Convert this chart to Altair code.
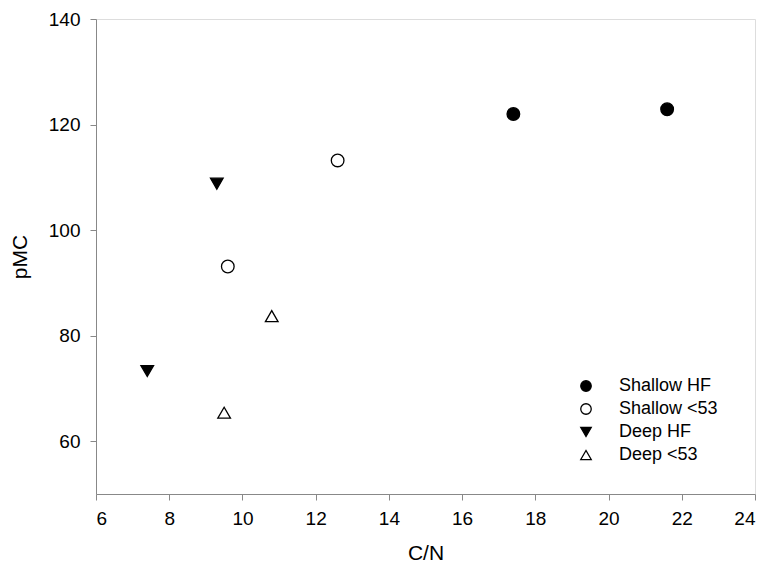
import altair as alt
import pandas as pd

series_names = ["Shallow HF", "Shallow <53", "Deep HF", "Deep <53"]
shallow_hf_cn = [17.4, 21.6]
shallow_hf_pmc = [122.0, 122.9]
shallow_53_cn = [9.6, 12.6]
shallow_53_pmc = [93.1, 113.2]
deep_hf_cn = [7.4, 9.3]
deep_hf_pmc = [73.3, 108.8]
deep_53_cn = [9.5, 10.8]
deep_53_pmc = [65.4, 83.7]

x_ticks = [6, 8, 10, 12, 14, 16, 18, 20, 22, 24]
y_ticks = [60, 80, 100, 120, 140]

rows = []
for name, xs, ys in zip(series_names,
                        [shallow_hf_cn, shallow_53_cn, deep_hf_cn, deep_53_cn],
                        [shallow_hf_pmc, shallow_53_pmc, deep_hf_pmc, deep_53_pmc]):
    for xv, yv in zip(xs, ys):
        rows.append({"series": name, "cn": xv, "pmc": yv})
df = pd.DataFrame(rows)

FONT = "Liberation Sans"


def make_legend():
    return alt.Legend(title=None, orient="none", legendX=481, legendY=358,
                      labelFontSize=18, symbolSize=110, labelOffset=24,
                      rowPadding=5, padding=0, labelFont=FONT,
                      symbolStrokeWidth=1.3)


chart = alt.Chart(df).mark_point(
    strokeWidth=1.3, opacity=1, fillOpacity=1, strokeOpacity=1, size=160
).encode(
    x=alt.X("cn:Q", title="C/N",
            scale=alt.Scale(domain=[6, 24], nice=False, zero=False),
            axis=alt.Axis(values=x_ticks, grid=False, titleFontSize=21,
                          labelFontSize=19, labelPadding=9, titlePadding=14,
                          tickSize=6, titleFontWeight="normal")),
    y=alt.Y("pmc:Q", title="pMC",
            scale=alt.Scale(domain=[50, 140], nice=False, zero=False),
            axis=alt.Axis(values=y_ticks, grid=False, titleFontSize=21,
                          labelFontSize=19, labelPadding=10, titlePadding=18,
                          tickSize=6, titleFontWeight="normal")),
    shape=alt.Shape("series:N",
                    scale=alt.Scale(domain=series_names,
                                    range=["circle", "circle", "triangle-down", "triangle-up"]),
                    legend=make_legend()),
    fill=alt.Fill("series:N",
                  scale=alt.Scale(domain=series_names,
                                  range=["black", "white", "black", "white"]),
                  legend=make_legend()),
    stroke=alt.Stroke("series:N",
                      scale=alt.Scale(domain=series_names,
                                      range=["black", "black", "black", "black"]),
                      legend=make_legend()),
).properties(
    width=659, height=475,
    autosize=alt.AutoSizeParams(type="none"),
    padding={"left": 88, "top": 11, "right": 4, "bottom": 76},
).configure_view(
    stroke="black", strokeWidth=1.3
).configure_axis(
    domainColor="black", tickColor="black", labelColor="black", titleColor="black",
    labelFont=FONT, titleFont=FONT, domainWidth=1.3, tickWidth=1.3
).configure_legend(
    labelColor="black"
).configure(background="white")

chart.save("out.html", embed_options={"renderer": "svg", "actions": False})
